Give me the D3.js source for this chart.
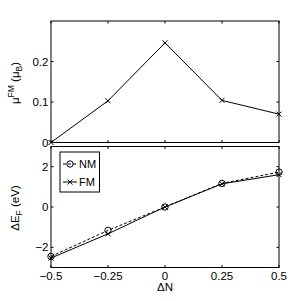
<!DOCTYPE html>
<html>
<head>
<meta charset="utf-8">
<script src="https://cdn.jsdelivr.net/npm/d3@7"></script>
<style>
  body { margin: 0; background: #fff; }
  svg { display: block; font-family: "Liberation Sans", Arial, sans-serif; }
  text { fill: #000; }
</style>
</head>
<body>
<div id="chart"></div>
<script>
// données
const dN = [-0.5, -0.25, 0, 0.25, 0.5];
const muFM = [0, 0.103, 0.246, 0.104, 0.070];
const dEfNM = [-2.45, -1.16, 0, 1.17, 1.73];
const dEfFM = [-2.53, -1.33, 0, 1.15, 1.60];
const xTicks = [-0.5, -0.25, 0, 0.25, 0.5];
const xTickLabels = ['\u22120.5', '\u22120.25', '0', '0.25', '0.5'];
const topTicks = [0, 0.1, 0.2];
const botTicks = [-2, 0, 2];

const width = 291, height = 301;
const svg = d3.select('#chart').append('svg')
    .attr('width', width)
    .attr('height', height);

const x = d3.scaleLinear().domain([-0.5, 0.5]).range([51, 279]);
const yTop = d3.scaleLinear().domain([0, 0.3]).range([142.5, 21]);
const yBot = d3.scaleLinear().domain([-3, 3]).range([267.5, 146.5]);

const fs = 11.5;
const fmt = v => v < 0 ? '\u2212' + Math.abs(v) : String(v);

// cadre et graduations façon MATLAB
function drawFrame(y, yTicks, showX) {
    const g = svg.append('g');
    const [x0, x1] = x.range();
    const [y0, y1] = y.range();
    g.append('rect')
        .attr('x', x0).attr('y', y1)
        .attr('width', x1 - x0).attr('height', y0 - y1)
        .attr('fill', 'none').attr('stroke', '#000').attr('stroke-width', 1);
    const tl = 2.5;
    xTicks.forEach(t => {
        g.append('line').attr('x1', x(t)).attr('x2', x(t)).attr('y1', y0).attr('y2', y0 - tl).attr('stroke', '#000');
        g.append('line').attr('x1', x(t)).attr('x2', x(t)).attr('y1', y1).attr('y2', y1 + tl).attr('stroke', '#000');
    });
    yTicks.forEach(t => {
        g.append('line').attr('x1', x0).attr('x2', x0 + tl).attr('y1', y(t)).attr('y2', y(t)).attr('stroke', '#000');
        g.append('line').attr('x1', x1).attr('x2', x1 - tl).attr('y1', y(t)).attr('y2', y(t)).attr('stroke', '#000');
        g.append('text')
            .attr('x', x0 - 2.5).attr('y', y(t))
            .attr('dy', '0.35em')
            .attr('text-anchor', 'end')
            .attr('font-size', fs)
            .text(fmt(t));
    });
    if (showX) {
        xTicks.forEach((t, i) => {
            g.append('text')
                .attr('x', x(t)).attr('y', y0 + 12.5)
                .attr('text-anchor', 'middle')
                .attr('font-size', fs)
                .text(xTickLabels[i]);
        });
    }
}

drawFrame(yTop, topTicks, false);
drawFrame(yBot, botTicks, true);

function crossMarker(g, px, py, s) {
    g.append('path')
        .attr('d', `M${px - s},${py - s}L${px + s},${py + s}M${px - s},${py + s}L${px + s},${py - s}`)
        .attr('stroke', '#000').attr('stroke-width', 1);
}

// panneau du haut
const line = y => d3.line().x((d, i) => x(dN[i])).y(d => y(d));
const gTop = svg.append('g');
gTop.append('path').datum(muFM)
    .attr('d', line(yTop))
    .attr('fill', 'none').attr('stroke', '#000').attr('stroke-width', 1);
muFM.forEach((v, i) => crossMarker(gTop, x(dN[i]), yTop(v), 2.5));

// panneau du bas
const gBot = svg.append('g');
gBot.append('path').datum(dEfNM)
    .attr('d', line(yBot))
    .attr('fill', 'none').attr('stroke', '#000').attr('stroke-width', 1)
    .attr('stroke-dasharray', '3,2');
dEfNM.forEach((v, i) => gBot.append('circle')
    .attr('cx', x(dN[i])).attr('cy', yBot(v)).attr('r', 3.2)
    .attr('fill', 'none').attr('stroke', '#000').attr('stroke-width', 1));
gBot.append('path').datum(dEfFM)
    .attr('d', line(yBot))
    .attr('fill', 'none').attr('stroke', '#000').attr('stroke-width', 1);
dEfFM.forEach((v, i) => crossMarker(gBot, x(dN[i]), yBot(v), 2.5));

// légende
const leg = svg.append('g');
leg.append('rect').attr('x', 60).attr('y', 152).attr('width', 39.5).attr('height', 40)
    .attr('fill', '#fff').attr('stroke', '#000').attr('stroke-width', 1);
leg.append('line').attr('x1', 63).attr('x2', 77).attr('y1', 164).attr('y2', 164)
    .attr('stroke', '#000').attr('stroke-dasharray', '3,2');
leg.append('circle').attr('cx', 70).attr('cy', 164).attr('r', 3.2)
    .attr('fill', 'none').attr('stroke', '#000');
leg.append('text').attr('x', 79).attr('y', 164).attr('dy', '0.35em').attr('font-size', 11).text('NM');
leg.append('line').attr('x1', 63).attr('x2', 77).attr('y1', 182).attr('y2', 182).attr('stroke', '#000');
crossMarker(leg, 70, 182, 2.5);
leg.append('text').attr('x', 79).attr('y', 182).attr('dy', '0.35em').attr('font-size', 11).text('FM');

// étiquettes des axes
const lblTop = svg.append('text')
    .attr('transform', 'translate(19,83) rotate(-90)')
    .attr('text-anchor', 'middle')
    .attr('font-size', fs);
lblTop.append('tspan').text('\u03bc');
lblTop.append('tspan').attr('dy', -5).attr('font-size', 8.5).text('FM');
lblTop.append('tspan').attr('dy', 5).text(' (\u03bc');
lblTop.append('tspan').attr('dy', 3).attr('font-size', 8.5).text('B');
lblTop.append('tspan').attr('dy', -3).text(')');

const lblBot = svg.append('text')
    .attr('transform', 'translate(19,208) rotate(-90)')
    .attr('text-anchor', 'middle')
    .attr('font-size', fs);
lblBot.append('tspan').text('\u0394E');
lblBot.append('tspan').attr('dy', 3).attr('font-size', 8.5).text('F');
lblBot.append('tspan').attr('dy', -3).text(' (eV)');

svg.append('text')
    .attr('x', x(0)).attr('y', 291)
    .attr('text-anchor', 'middle')
    .attr('font-size', fs)
    .text('\u0394N');
</script>
</body>
</html>
